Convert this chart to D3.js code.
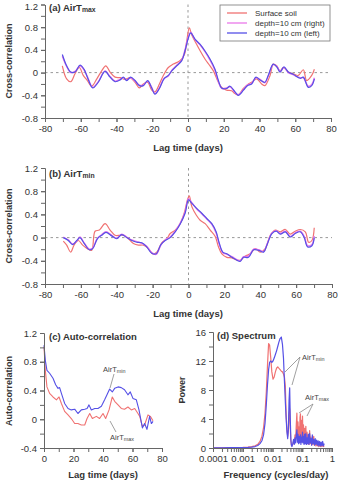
<!DOCTYPE html>
<html>
<head>
<meta charset="utf-8">
<script src="https://cdn.jsdelivr.net/npm/d3@7"></script>
<style>
body { margin: 0; background: #fff; }
svg { font-family: "Liberation Sans", Arial, sans-serif; }
</style>
</head>
<body>
<div id="chart"></div>
<script>
// ---- (a) cross-correlation with AirTmax ----
const aSoilLag = [-70.3,-67.9,-65.6,-63.2,-60.8,-58.6,-56.3,-53.9,-51,-48.3,-46,-43.6,-40.8,-38,-35.2,-32.4,-29.6,-27.2,-25,-22.6,-20.3,-18.5,-16,-13.8,-11,-8.2,-4.5,-2,-0.7,0.75,2,4.8,6.7,9.5,12.3,14.2,17,18.8,21.6,24.4,26.3,28.2,31,33.8,35.6,38.4,41.2,43,45.9,47.7,49.6,51.5,53.3,56.1,58.9,61.7,64.5,66.4,69.2,70.7];
const aSoilCC = [0.12,-0.11,-0.16,-0.02,0.09,-0.05,-0.14,-0.24,-0.11,0.03,0.12,0.01,-0.08,-0.09,-0.12,-0.09,-0.17,-0.27,-0.2,-0.17,-0.31,-0.34,-0.2,-0.05,0.09,0.15,0.21,0.32,0.56,0.79,0.67,0.5,0.39,0.24,0.12,0.03,-0.17,-0.26,-0.31,-0.32,-0.37,-0.39,-0.28,-0.2,-0.17,-0.11,-0.2,-0.23,-0.05,0.15,0.12,0.03,0.09,0.01,-0.02,-0.05,0.05,-0.14,-0.05,0.06];
const aDepthLag = [-70.3,-67.9,-65.6,-63.2,-60.4,-58.2,-56.3,-53.3,-50.2,-46.4,-43.6,-40.8,-38,-36.2,-34.3,-32.1,-29.6,-27.2,-25,-22.6,-20.3,-18.5,-16,-13.4,-11,-9.1,-6.3,-3.5,-1.7,0.2,1.5,3.9,6.7,9.5,12.3,15.1,17,18.8,21.6,23.5,26.3,28.2,31,33.2,35.6,38,40.3,43,44.9,47.7,49.9,51.5,53.7,56.1,58.9,62.7,64.5,67.3,69.2,70.7];
const aRightCC = [0.29,0.11,0.0,0.02,0.12,0.05,-0.07,-0.26,-0.16,0.03,-0.07,-0.15,-0.12,-0.09,-0.13,-0.09,-0.15,-0.22,-0.22,-0.15,-0.26,-0.37,-0.27,-0.1,-0.06,0.04,0.13,0.22,0.4,0.63,0.71,0.58,0.49,0.37,0.22,0.04,-0.16,-0.28,-0.27,-0.25,-0.35,-0.39,-0.3,-0.22,-0.19,-0.09,-0.12,-0.18,-0.06,0.14,0.1,0.02,0.09,0.0,-0.04,-0.09,-0.09,-0.24,-0.21,-0.09];
const aLeftCC = [0.32,0.12,0.01,0.01,0.13,0.06,-0.08,-0.27,-0.17,0.02,-0.08,-0.16,-0.13,-0.08,-0.14,-0.08,-0.14,-0.23,-0.23,-0.14,-0.27,-0.38,-0.28,-0.11,-0.05,0.03,0.12,0.21,0.38,0.61,0.7,0.59,0.5,0.38,0.24,0.06,-0.14,-0.27,-0.28,-0.24,-0.34,-0.4,-0.31,-0.23,-0.2,-0.08,-0.13,-0.17,-0.05,0.15,0.09,0.01,0.1,0.01,-0.03,-0.1,-0.08,-0.26,-0.23,-0.11];

// ---- (b) cross-correlation with AirTmin ----
const bSoilLag = [-69.8,-67.9,-65.7,-63.8,-61.4,-59,-56.4,-54,-52.1,-49.7,-46.5,-43.7,-40.9,-38.1,-36.3,-33.5,-30.7,-27.9,-25.1,-22.3,-19.9,-17.7,-14.9,-12.1,-10.2,-7.4,-4.7,-2.4,-0.6,0.4,1.9,4.3,6.5,9.3,12.1,14.9,16.7,18.6,21.4,24.2,27,28.8,31.6,34.4,37.2,40,42.8,45.6,48.4,51.2,54,56.7,59.5,62.3,65.1,67,68.8,70.1];
const bSoilCC = [-0.06,-0.13,-0.25,-0.13,-0.05,-0.13,-0.19,-0.22,0.11,0.13,0.24,0.13,0.04,0.04,0.04,-0.02,-0.1,-0.13,-0.13,-0.19,-0.28,-0.25,-0.09,-0.02,0.07,0.13,0.24,0.42,0.65,0.72,0.53,0.39,0.3,0.24,0.13,0.02,-0.16,-0.28,-0.34,-0.35,-0.39,-0.39,-0.32,-0.28,-0.19,-0.25,-0.19,0.04,0.13,0.1,0.14,0.06,0.11,0.14,0.1,-0.08,-0.05,0.17];
const bDepthLag = [-69.8,-67,-64.6,-62.3,-60.5,-58.2,-55.3,-53.4,-50.8,-48.4,-46,-42.8,-40,-37.2,-34.4,-31.6,-28.8,-26,-23.3,-20.5,-18,-15.4,-13,-10.2,-7.4,-4.7,-1.9,0,1.9,4.7,7.4,10.2,13,15.4,17.2,19.1,21.4,24.2,27,28.8,30.7,33.5,36.3,39.1,41.9,43.7,46.5,48.9,51.2,54,56.7,59.5,62.3,64.5,66.4,68.8,70.1];
const bRightCC = [0.01,-0.04,-0.11,-0.06,0.01,-0.09,-0.2,-0.18,-0.01,0.05,0.1,0.04,-0.01,0.06,0.01,-0.04,-0.07,-0.1,-0.15,-0.26,-0.29,-0.13,-0.04,0.01,0.11,0.24,0.44,0.67,0.6,0.49,0.41,0.32,0.23,0.08,-0.12,-0.26,-0.29,-0.33,-0.38,-0.4,-0.33,-0.32,-0.2,-0.21,-0.24,-0.12,0.08,0.12,0.07,0.11,0.02,0.08,0.11,0.02,-0.14,-0.12,0.03];
const bLeftCC = [0,-0.05,-0.12,-0.05,0,-0.1,-0.21,-0.19,-0.02,0.04,0.09,0.03,-0.02,0.05,0,-0.05,-0.08,-0.09,-0.16,-0.27,-0.28,-0.12,-0.05,0,0.1,0.23,0.42,0.65,0.59,0.5,0.42,0.33,0.24,0.1,-0.1,-0.25,-0.28,-0.34,-0.39,-0.41,-0.34,-0.34,-0.21,-0.22,-0.25,-0.13,0.07,0.11,0.06,0.1,0.01,0.07,0.1,0,-0.16,-0.14,0];

// ---- (c) auto-correlation ----
const cMinLag = [0,0.9,2,3.8,6.1,7.9,9.5,10.6,11.8,14,16.3,18.5,20.8,23,25.3,27.6,29.2,30.5,32.1,34.4,36.6,38.9,41.1,42.7,44.5,46.3,47.9,50.2,52.4,54.6,56.9,58.5,60.3,62.6,64.4,66.7,68.2,69.8,71.6,72.8,73.9];
const cMinAC = [1.03,0.82,0.68,0.64,0.57,0.48,0.43,0.44,0.36,0.22,0.15,0.13,0.14,0.08,0.13,0.14,0.15,0.2,0.13,0.15,0.15,0.18,0.27,0.34,0.42,0.38,0.43,0.45,0.44,0.41,0.34,0.38,0.29,0.27,0.13,-0.12,-0.06,-0.14,0.04,-0.06,-0.03];
const cMaxLag = [0,0.9,2,3.8,6.1,8.4,10.2,11.8,14,16.3,18.5,20.8,23,25.3,27.6,29.2,31,32.8,35.5,37.7,40,41.8,44.1,46.3,47.9,50.2,52.4,54.6,56.9,59.2,61.5,63.7,64.9,66.7,68.2,70.5,72.1,73.9];
const cMaxAC = [1.01,0.68,0.45,0.36,0.31,0.27,0.31,0.22,0.11,0.06,0.01,-0.06,-0.06,-0.08,-0.08,0.01,0.08,0.01,0.04,0.01,0.08,0.01,0.13,0.31,0.25,0.2,0.15,0.14,0.17,0.13,0.15,0.08,0.04,-0.1,-0.08,0.06,0.04,-0.02];

// ---- (d) spectrum ----
const dFreq = [0.0001,0.0002,0.0004,0.0007,0.001,0.0015,0.002,0.0026,0.0032,0.0038,0.0044,0.005,0.0056,0.0062,0.0068,0.0074,0.008,0.0087,0.0095,0.0104,0.0114,0.0125,0.0137,0.015,0.0164,0.018,0.0198,0.0216,0.0234,0.0252,0.027,0.0288,0.0306,0.0324,0.0342,0.036,0.0378,0.0396,0.0414,0.0432,0.045,0.048,0.051,0.054,0.057,0.060,0.063,0.066,0.069,0.072,0.075,0.078,0.081,0.084,0.087,0.090,0.094,0.098,0.102,0.106,0.110,0.115,0.120,0.126,0.132,0.138,0.145,0.152,0.160,0.168,0.177,0.186,0.196,0.207,0.218,0.230,0.243,0.257,0.272,0.288,0.305,0.323,0.342,0.362,0.384,0.407,0.431,0.457,0.485,0.515,0.55];
const dPowMax = [0.02,0.03,0.05,0.06,0.08,0.12,0.18,0.3,0.5,0.9,1.6,2.8,4.8,7.8,11.5,14.4,14.2,12.5,10.5,9.5,9.8,10.5,11.0,11.2,11.0,10.8,10.6,10.5,10.2,9.8,8.5,4.5,2.5,1.6,2.4,4.6,5.4,2.8,1.0,0.4,0.3,0.5,0.9,0.6,1.8,1.2,3.2,4.8,1.5,3.6,1.0,2.9,0.9,4.2,4.7,1.2,3.8,1.4,4.4,1.0,3.2,0.8,2.7,0.9,3.0,0.7,2.2,0.6,1.8,0.5,2.4,0.6,1.5,0.4,1.2,0.5,1.6,0.4,1.0,0.3,0.9,0.3,0.8,0.2,0.7,0.2,0.6,0.2,0.5,0.2,0.3];
const dPowMin = [0.02,0.03,0.04,0.05,0.06,0.08,0.12,0.2,0.35,0.6,1.0,1.8,3.4,6.0,8.8,10.8,11.8,12.0,11.8,12.0,12.4,12.9,13.4,14.0,14.6,15.1,15.3,14.3,12.4,9.2,6.4,4.0,2.2,1.3,2.6,6.5,8.3,4.0,1.2,0.4,0.2,0.6,1.2,0.5,1.4,0.7,1.8,2.5,0.8,1.9,0.6,1.6,0.7,1.2,1.8,0.5,1.5,0.8,2.2,0.7,1.6,0.5,1.9,0.6,2.0,0.5,1.4,0.6,1.9,0.5,2.0,0.7,1.3,0.4,1.8,0.6,1.2,0.4,1.3,0.5,1.1,0.4,1.0,0.3,0.9,0.3,0.8,0.3,0.9,0.3,0.6];

// tick labels
const ccTicks = [-0.8, -0.4, 0, 0.4, 0.8, 1.2];
const lagTicks = [-80, -60, -40, -20, 0, 20, 40, 60, 80];
const acTicks = [-0.4, 0, 0.4, 0.8, 1.2];
const acLagTicks = [0, 20, 40, 60, 80];
const powTicks = [0, 4, 8, 12, 16];
const freqTicks = [0.0001, 0.001, 0.01, 0.1, 1];

const legendNames = ["Surface soil", "depth=10 cm (right)", "depth=10 cm (left)"];
const colors = { soil: "#f07272", right: "#ea78ea", left: "#5550e6" };

const W = 341, H = 480;
const svg = d3.select("#chart").append("svg")
  .attr("width", W).attr("height", H);

const axisColor = "#666", textColor = "#333";

function styleAxis(g) {
  g.select(".domain").attr("stroke", axisColor);
  g.selectAll(".tick line").attr("stroke", axisColor);
  g.selectAll(".tick text").attr("fill", textColor).style("font-size", "9.5px");
}

// draws left+bottom axes with major labelled and minor unlabelled ticks
function drawAxes(x, y, xMajor, xMinor, yMajor, yMinor) {
  const y0 = y.range()[0], x0 = x.range()[0];
  const gxm = svg.append("g").attr("transform", `translate(0,${y0})`)
    .call(d3.axisBottom(x).tickValues(xMinor).tickSize(4).tickSizeOuter(0).tickFormat(""));
  styleAxis(gxm);
  const gx = svg.append("g").attr("transform", `translate(0,${y0})`)
    .call(d3.axisBottom(x).tickValues(xMajor).tickSize(4).tickPadding(3).tickSizeOuter(0).tickFormat(d => String(d)));
  styleAxis(gx);
  const gym = svg.append("g").attr("transform", `translate(${x0},0)`)
    .call(d3.axisLeft(y).tickValues(yMinor).tickSize(4).tickSizeOuter(0).tickFormat(""));
  styleAxis(gym);
  const gy = svg.append("g").attr("transform", `translate(${x0},0)`)
    .call(d3.axisLeft(y).tickValues(yMajor).tickSize(4).tickPadding(3).tickSizeOuter(0).tickFormat(d => String(d)));
  styleAxis(gy);
  return gy;
}

function subText(x, y, main, sub, size, weight, fill) {
  const t = svg.append("text").attr("x", x).attr("y", y)
    .attr("fill", fill || textColor).style("font-size", size + "px")
    .style("font-weight", weight || "normal");
  t.append("tspan").text(main);
  if (sub) t.append("tspan").text(sub).style("font-size", (size * 0.72) + "px").attr("dy", 1);
  return t;
}

function xTitle(cx, y, txt) {
  svg.append("text").attr("x", cx).attr("y", y).attr("text-anchor", "middle")
    .attr("fill", textColor).style("font-size", "9.5px").style("font-weight", "bold").text(txt);
}
function yTitle(x, cy, txt) {
  svg.append("text").attr("transform", `translate(${x},${cy}) rotate(-90)`)
    .attr("text-anchor", "middle").attr("fill", textColor)
    .style("font-size", "9px").style("font-weight", "bold").text(txt);
}

function drawLine(x, y, xs, ys, color, width, curve) {
  const pts = xs.map((v, i) => [v, ys[i]]).filter(p => p[1] !== undefined);
  const line = d3.line().x(d => x(d[0])).y(d => y(d[1])).curve(curve || d3.curveLinear);
  svg.append("path").datum(pts).attr("d", line)
    .attr("fill", "none").attr("stroke", color).attr("stroke-width", width)
    .attr("stroke-linejoin", "round");
}

function dashed(x1, y1, x2, y2) {
  svg.append("line").attr("x1", x1).attr("y1", y1).attr("x2", x2).attr("y2", y2)
    .attr("stroke", "#999").attr("stroke-width", 1).attr("stroke-dasharray", "2.5,3");
}

function leader(x1, y1, x2, y2) {
  svg.append("line").attr("x1", x1).attr("y1", y1).attr("x2", x2).attr("y2", y2)
    .attr("stroke", "#888").attr("stroke-width", 0.8);
}

const minorLag = d3.range(-80, 81, 10);
const minorCC = d3.range(-0.8, 1.21, 0.2).map(v => +v.toFixed(1));

// ---------- panel (a) ----------
{
  const x = d3.scaleLinear().domain([-80, 80]).range([45, 331]);
  const y = d3.scaleLinear().domain([-0.8, 1.2]).range([118, 4.5]);
  dashed(x(-80), y(0), x(80), y(0));
  dashed(x(0), y(1.2), x(0), y(-0.8));
  const c = d3.curveCatmullRom.alpha(0.5);
  drawLine(x, y, aSoilLag, aSoilCC, colors.soil, 1.2, c);
  drawLine(x, y, aDepthLag, aRightCC, colors.right, 1.4, c);
  drawLine(x, y, aDepthLag, aLeftCC, colors.left, 1.2, c);
  const gy = drawAxes(x, y, lagTicks, minorLag, ccTicks, minorCC);
  // keep the top label inside the page
  gy.selectAll(".tick text").filter(d => d === 1.2).attr("dy", "0.55em");
  subText(49, 11, "(a) AirT", "max", 9.5, "bold");
  xTitle(188, 150.5, "Lag time (days)");
  yTitle(12, 61, "Cross-correlation");

  // legend
  const lg = svg.append("g");
  lg.append("rect").attr("x", 220).attr("y", 5).attr("width", 110).attr("height", 36)
    .attr("fill", "#fff").attr("stroke", "#777").attr("stroke-width", 0.8);
  const lc = [colors.soil, colors.right, colors.left];
  legendNames.forEach((n, i) => {
    const ly = 13 + i * 10;
    lg.append("line").attr("x1", 227).attr("x2", 247).attr("y1", ly).attr("y2", ly)
      .attr("stroke", lc[i]).attr("stroke-width", 1.3);
    lg.append("text").attr("x", 255).attr("y", ly + 3).attr("fill", textColor)
      .style("font-size", "8px").text(n);
  });
}

// ---------- panel (b) ----------
{
  const x = d3.scaleLinear().domain([-80, 80]).range([45, 332]);
  const y = d3.scaleLinear().domain([-0.8, 1.2]).range([284, 168]);
  dashed(x(-80), y(0), x(80), y(0));
  dashed(x(0), y(1.2), x(0), y(-0.8));
  const c = d3.curveCatmullRom.alpha(0.5);
  drawLine(x, y, bSoilLag, bSoilCC, colors.soil, 1.2, c);
  drawLine(x, y, bDepthLag, bRightCC, colors.right, 1.4, c);
  drawLine(x, y, bDepthLag, bLeftCC, colors.left, 1.2, c);
  drawAxes(x, y, lagTicks, minorLag, ccTicks, minorCC);
  subText(49, 177, "(b) AirT", "min", 9.5, "bold");
  xTitle(188, 316.5, "Lag time (days)");
  yTitle(12, 226, "Cross-correlation");
}

// ---------- panel (c) ----------
{
  const x = d3.scaleLinear().domain([0, 80]).range([44, 162]);
  const y = d3.scaleLinear().domain([-0.4, 1.2]).range([448, 333]);
  drawLine(x, y, cMaxLag, cMaxAC, colors.soil, 1.1);
  drawLine(x, y, cMinLag, cMinAC, colors.left, 1.1);
  drawAxes(x, y, acLagTicks, d3.range(0, 81, 10), acTicks,
    d3.range(-0.4, 1.21, 0.2).map(v => +v.toFixed(1)));
  subText(49, 340, "(c) Auto-correlation", null, 9.5, "bold");
  xTitle(103, 477.5, "Lag time (days)");
  yTitle(12, 391, "Auto-correlation");
  subText(103, 372, "AirT", "min", 7.5, "normal", "#444");
  leader(114, 374, 110, 388);
  leader(110, 421, 116, 432);
  subText(110, 440, "AirT", "max", 7.5, "normal", "#444");
}

// ---------- panel (d) ----------
{
  const x = d3.scaleLog().domain([0.0001, 1]).range([213, 332]);
  const y = d3.scaleLinear().domain([0, 16]).range([448, 332]);
  drawLine(x, y, dFreq, dPowMax, colors.soil, 1.2);
  drawLine(x, y, dFreq, dPowMin, colors.left, 1.2);
  drawAxes(x, y, freqTicks, x.ticks(), powTicks, d3.range(0, 17, 2));
  subText(217, 339, "(d) Spectrum", null, 9.5, "bold");
  xTitle(276, 477.5, "Frequency (cycles/day)");
  yTitle(185, 390, "Power");
  subText(302, 360, "AirT", "min", 7.5, "normal", "#444");
  leader(300, 357, 285, 372);
  leader(300, 357, 292, 385);
  subText(305, 400, "AirT", "max", 7.5, "normal", "#444");
  leader(313, 404, 299, 413);
  leader(313, 404, 307, 416);
}
</script>
</body>
</html>
